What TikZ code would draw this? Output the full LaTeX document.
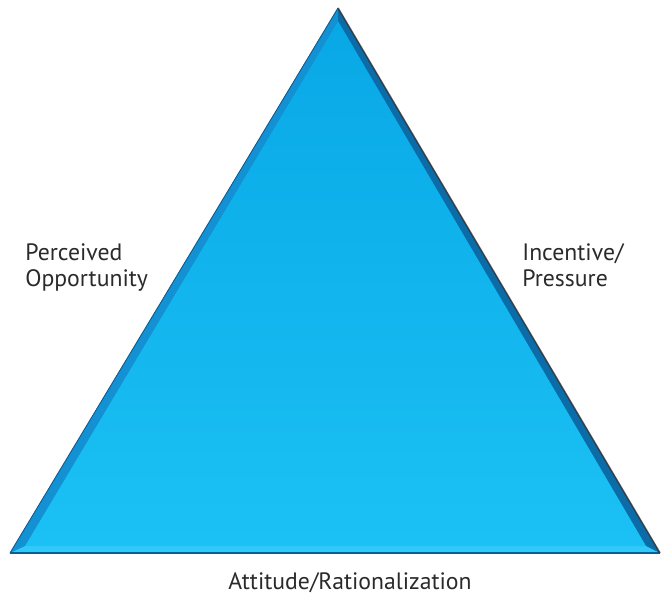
\documentclass[tikz,border=0pt]{standalone}
\usepackage{fontspec}
\setmainfont{PT Sans}
\usepackage{tikz}

\definecolor{rimdark}{HTML}{0A5E96}
\definecolor{rimleft}{HTML}{1391D3}
\definecolor{rimright}{HTML}{0B6CA8}
\definecolor{rimbottom}{HTML}{30CAF8}
\definecolor{facetop}{HTML}{08A8E6}
\definecolor{facebottom}{HTML}{1BC1F4}
\definecolor{labeltext}{HTML}{2A2A2A}

\tikzset{
    sidelabel/.style={text=labeltext, font=\fontsize{13.5}{14.8}\selectfont, align=left, inner sep=0pt},
}

\begin{document}
\begin{tikzpicture}[x=0.02cm, y=-0.02cm]
    \useasboundingbox (0, 0) rectangle (661, 595);

    % outer corners
    \coordinate (T) at (338, 8);
    \coordinate (L) at (10, 553);
    \coordinate (R) at (660, 553);
    % inner corners (bevel)
    \coordinate (iT) at (338, 21);
    \coordinate (iL) at (25, 546);
    \coordinate (iR) at (646, 546);

    \fill[rimdark] (T) -- (L) -- (R) -- cycle; % base
    \fill[rimleft] (T) -- (L) -- (iL) -- (iT) -- cycle; % left rim
    \fill[rimright] (T) -- (R) -- (iR) -- (iT) -- cycle; % right rim
    \fill[rimbottom] (L) -- (R) -- (iR) -- (iL) -- cycle; % bottom rim
    \shade[top color=facetop, bottom color=facebottom] (iT) -- (iL) -- (iR) -- cycle; % face

    \draw[rimdark, line width=0.9pt] (L) -- (R); % bottom edge
    \draw[black!80, line width=0.9pt, opacity=0.8] (T) -- (R); % shadow edge
    \draw[rimdark, line width=0.5pt] (T) -- (L);

    \node[sidelabel, anchor=north west] (opportunity) at (25, 243) {Perceived\\Opportunity};
    \node[sidelabel, anchor=north west] (pressure) at (522, 243) {Incentive/\\Pressure};
    \node[sidelabel, anchor=center] (rationalization) at (350, 583) {Attitude/Rationalization};
\end{tikzpicture}
\end{document}
